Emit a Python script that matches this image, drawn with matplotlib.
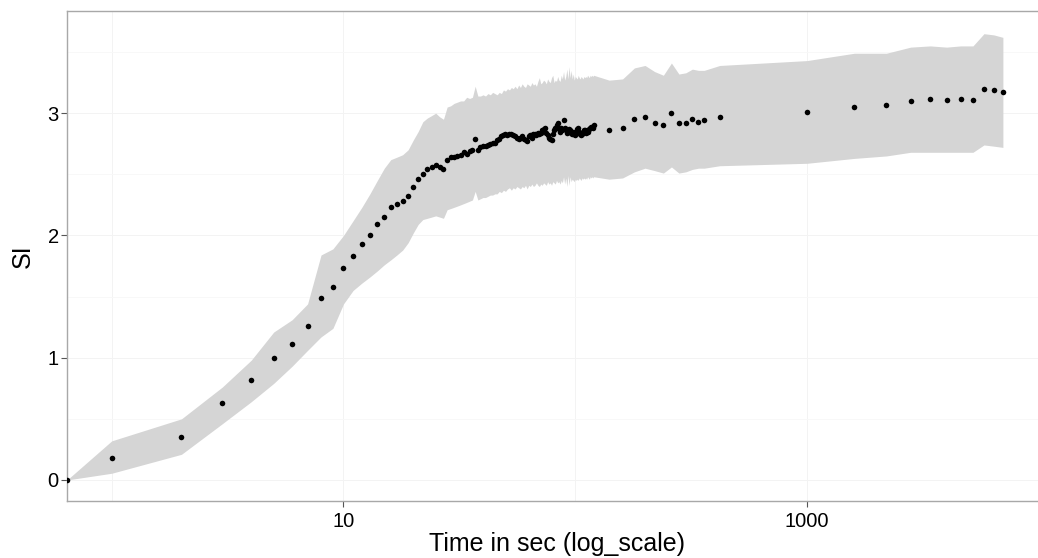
import numpy as np
import matplotlib
matplotlib.use("Agg")
import matplotlib.pyplot as plt

# time points (sec); 0 is drawn at the left edge like ggplot's -Inf
time_s = [0, 1, 2, 3, 4, 5, 6, 7, 8, 9, 10, 11, 12, 13, 14, 15, 16, 17, 18, 19,
          20, 21, 22, 23, 24, 25, 26, 27, 28, 29, 30, 31, 32, 33, 34, 35, 36, 37, 38, 39,
          40, 41, 42, 43, 44, 45, 46, 47, 48, 49, 50, 51, 52, 53, 54, 55, 56, 57, 58, 59,
          60, 61, 62, 63, 64, 65, 66, 67, 68, 69, 70, 71, 72, 73, 74, 75, 76, 77, 78, 79,
          80, 81, 82, 83, 84, 85, 86, 87, 88, 89, 90, 91, 92, 93, 94, 95, 96, 97, 98, 99,
          100, 101, 102, 103, 104, 105, 106, 107, 108, 109, 110, 111, 112, 113, 114, 115, 116, 117, 118, 119,
          120, 140, 160, 180, 200, 220, 240, 260, 280, 300, 320, 340, 360, 420,
          1000, 1600, 2200, 2800, 3400, 4000, 4600, 5200, 5800, 6400, 7000]

si_mean = [0.0, 0.18, 0.35, 0.63, 0.82, 1.00, 1.11, 1.26, 1.49, 1.58, 1.73, 1.83, 1.93, 2.00, 2.09, 2.15, 2.23, 2.26, 2.28, 2.32,
           2.40, 2.46, 2.50, 2.54, 2.56, 2.58, 2.56, 2.54, 2.62, 2.64, 2.64, 2.65, 2.66, 2.68, 2.67, 2.69, 2.70, 2.79, 2.70, 2.72,
           2.73, 2.73, 2.74, 2.75, 2.76, 2.76, 2.78, 2.79, 2.81, 2.82, 2.83, 2.82, 2.83, 2.83, 2.82, 2.81, 2.80, 2.79, 2.80, 2.81,
           2.79, 2.78, 2.77, 2.81, 2.82, 2.80, 2.83, 2.83, 2.82, 2.84, 2.83, 2.84, 2.86, 2.87, 2.88, 2.84, 2.82, 2.80, 2.79, 2.78,
           2.83, 2.86, 2.88, 2.90, 2.92, 2.87, 2.85, 2.88, 2.86, 2.94, 2.88, 2.86, 2.84, 2.85, 2.87, 2.86, 2.84, 2.83, 2.85, 2.83,
           2.82, 2.85, 2.87, 2.88, 2.85, 2.83, 2.82, 2.83, 2.85, 2.86, 2.86, 2.84, 2.85, 2.85, 2.86, 2.87, 2.88, 2.89, 2.89, 2.88,
           2.90, 2.86, 2.88, 2.95, 2.97, 2.92, 2.90, 3.00, 2.92, 2.92, 2.95, 2.93, 2.94, 2.97,
           3.01, 3.05, 3.07, 3.10, 3.115, 3.11, 3.115, 3.11, 3.20, 3.19, 3.17]

si_upper = [0.0, 0.32, 0.50, 0.76, 0.98, 1.21, 1.31, 1.44, 1.84, 1.89, 2.00, 2.12, 2.23, 2.34, 2.45, 2.55, 2.62, 2.64, 2.66, 2.70,
            2.78, 2.85, 2.93, 2.96, 2.98, 3.00, 2.97, 2.95, 3.05, 3.06, 3.08, 3.09, 3.10, 3.10, 3.13, 3.12, 3.13, 3.22, 3.14, 3.14,
            3.15, 3.14, 3.16, 3.15, 3.17, 3.16, 3.15, 3.17, 3.16, 3.19, 3.18, 3.20, 3.19, 3.21, 3.20, 3.22, 3.20, 3.23, 3.21, 3.24,
            3.22, 3.21, 3.24, 3.23, 3.22, 3.25, 3.23, 3.24, 3.22, 3.26, 3.29, 3.24, 3.25, 3.27, 3.26, 3.24, 3.28, 3.26, 3.25, 3.29,
            3.31, 3.25, 3.27, 3.26, 3.30, 3.27, 3.26, 3.31, 3.28, 3.34, 3.27, 3.30, 3.36, 3.28, 3.38, 3.29, 3.35, 3.28, 3.32, 3.27,
            3.30, 3.29, 3.28, 3.31, 3.29, 3.28, 3.30, 3.29, 3.28, 3.30, 3.29, 3.30, 3.29, 3.31, 3.30, 3.29, 3.31, 3.30, 3.31, 3.30,
            3.31, 3.27, 3.28, 3.37, 3.39, 3.34, 3.31, 3.41, 3.32, 3.33, 3.36, 3.35, 3.35, 3.39,
            3.43, 3.49, 3.49, 3.54, 3.55, 3.54, 3.55, 3.55, 3.65, 3.64, 3.62]

si_lower = [0.0, 0.055, 0.21, 0.46, 0.64, 0.79, 0.93, 1.06, 1.17, 1.24, 1.44, 1.55, 1.61, 1.66, 1.71, 1.76, 1.80, 1.84, 1.88, 1.94,
            2.02, 2.09, 2.13, 2.14, 2.15, 2.16, 2.15, 2.14, 2.21, 2.22, 2.23, 2.24, 2.25, 2.26, 2.27, 2.28, 2.29, 2.36, 2.29, 2.30,
            2.31, 2.31, 2.32, 2.33, 2.33, 2.34, 2.34, 2.36, 2.35, 2.37, 2.36, 2.38, 2.39, 2.37, 2.39, 2.38, 2.40, 2.39, 2.38, 2.40,
            2.39, 2.41, 2.38, 2.41, 2.40, 2.42, 2.40, 2.41, 2.43, 2.41, 2.40, 2.42, 2.41, 2.43, 2.42, 2.41, 2.44, 2.42, 2.43, 2.41,
            2.44, 2.43, 2.42, 2.45, 2.43, 2.44, 2.42, 2.45, 2.43, 2.48, 2.42, 2.47, 2.40, 2.49, 2.41, 2.48, 2.44, 2.46, 2.45, 2.44,
            2.46, 2.45, 2.46, 2.45, 2.47, 2.46, 2.45, 2.47, 2.46, 2.47, 2.46, 2.47, 2.46, 2.48, 2.47, 2.46, 2.48, 2.47, 2.48, 2.47,
            2.48, 2.46, 2.47, 2.52, 2.55, 2.53, 2.51, 2.56, 2.51, 2.52, 2.54, 2.55, 2.55, 2.57,
            2.59, 2.63, 2.65, 2.68, 2.68, 2.68, 2.68, 2.68, 2.74, 2.73, 2.72]

x_ticks = [10, 1000]
x_tick_labels = ["10", "1000"]
y_ticks = [0, 1, 2, 3]

XLIM = (10 ** -0.193, 10 ** 4.038)
YLIM = (-0.172, 3.838)

plt.rcParams['font.family'] = ['Liberation Sans', 'DejaVu Sans']

fig = plt.figure(figsize=(10.38, 5.58), dpi=100)
ax = fig.add_axes([67 / 1038, 57 / 558, 980.6 / 1038, 490.3 / 558])
ax.set_xscale('log')

t = np.array(time_s, dtype=float)
t = np.where(t <= 0, XLIM[0], t)  # log(0) -> left edge

ax.fill_between(t, si_lower, si_upper, color='#d5d5d5', linewidth=0, zorder=2)
ax.scatter(t, si_mean, s=16, color='black', linewidths=0, zorder=3)

ax.set_xlim(*XLIM)
ax.set_ylim(*YLIM)

# grid like theme_bw, very faint
for v in [1, 10, 100, 1000]:
    ax.axvline(v, color='#f3f3f3', lw=0.7, zorder=0)
for v in [0, 1, 2, 3]:
    ax.axhline(v, color='#f3f3f3', lw=0.7, zorder=0)
for v in [0.5, 1.5, 2.5, 3.5]:
    ax.axhline(v, color='#f8f8f8', lw=0.7, zorder=0)

ax.set_xticks(x_ticks)
ax.set_xticklabels(x_tick_labels)
ax.xaxis.set_minor_locator(matplotlib.ticker.NullLocator())
ax.set_yticks(y_ticks)
ax.tick_params(axis='both', length=4, width=0.8, color='#555555', labelsize=14.5,
               labelcolor='black')
ax.tick_params(axis='x', pad=4)
ax.tick_params(axis='y', pad=2)

for s in ax.spines.values():
    s.set_color('#a8a8a8')
    s.set_linewidth(1.0)
ax.spines['right'].set_visible(False)

ax.set_xlabel("Time in sec (log_scale)", fontsize=18, labelpad=1)
ax.set_ylabel("SI", fontsize=18, labelpad=9)

fig.savefig("out.png", dpi=100)
